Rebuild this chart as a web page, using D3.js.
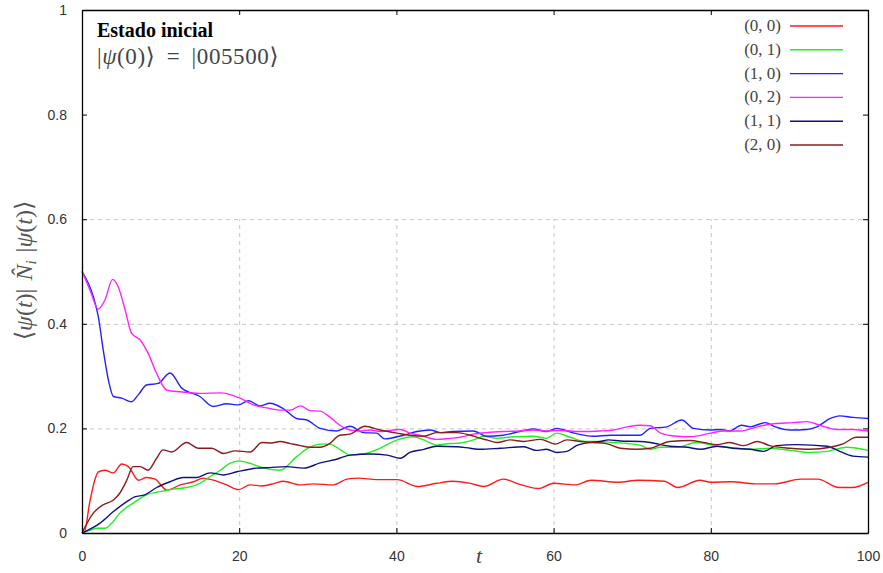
<!DOCTYPE html>
<html>
<head>
<meta charset="utf-8">
<script src="https://cdn.jsdelivr.net/npm/d3@7"></script>
<style>
  body { margin: 0; background: #fff; }
  svg { display: block; }
</style>
</head>
<body>
<div id="root"></div>
<script>
const WIDTH = 883;
const HEIGHT = 573;
const MARGIN = {top: 10, right: 15, bottom: 40, left: 82};

const X_TICKS = [0, 20, 40, 60, 80, 100];
const Y_TICKS = [0, 0.2, 0.4, 0.6, 0.8, 1];
const X_GRID = [20, 40, 60, 80];
const Y_GRID = [0.2, 0.4, 0.6];

const SERIES_LABELS = ["(0, 0)", "(0, 1)", "(1, 0)", "(0, 2)", "(1, 1)", "(2, 0)"];
const SERIES_COLORS = ["#ff1a1a", "#22ee22", "#2222ff", "#ff22ff", "#10107f", "#8b1c1c"];

// [t, <N_i>]
const occ00 = [[0,0],[0.25,0],[1.0,0.06],[1.6,0.1],[2.08,0.117],[2.9,0.12],[4.0,0.115],[5.05,0.132],[5.9,0.127],
  [7.2,0.101],[8.2,0.106],[9.3,0.103],[10.8,0.082],[12.5,0.092],[14.2,0.098],[15.4,0.105],[16.7,0.101],
  [18.4,0.092],[19.9,0.083],[21.4,0.092],[22.9,0.09],[24.5,0.095],[25.6,0.099],[27.8,0.092],[29.4,0.094],
  [32,0.092],[33.7,0.103],[35.2,0.105],[37.5,0.102],[40.1,0.102],[42.7,0.089],[45.1,0.095],[47.2,0.099],
  [49.4,0.095],[51.1,0.089],[53.6,0.103],[55.7,0.093],[58.1,0.085],[60,0.095],[62.7,0.092],[64.8,0.101],
  [68.2,0.097],[70.8,0.101],[74.1,0.099],[75.8,0.087],[78.6,0.101],[80,0.097],[82.6,0.098],[85.6,0.094],
  [88.1,0.094],[91.5,0.103],[93.6,0.103],[96.3,0.087],[98,0.087],[100,0.097]];

const occ01 = [[0,0],[1.0,0.005],[1.9,0.009],[2.9,0.009],[3.8,0.019],[4.8,0.038],[6.5,0.057],[8.2,0.073],
  [9.9,0.079],[11.6,0.084],[13.3,0.087],[15,0.095],[16.3,0.108],[17.6,0.12],[18.8,0.133],[19.9,0.138],
  [21.4,0.133],[23.1,0.124],[25.2,0.12],[27.3,0.146],[29,0.164],[30.3,0.17],[31.5,0.17],[32.8,0.16],
  [34.1,0.149],[35.8,0.151],[37.9,0.162],[40.1,0.178],[42.2,0.184],[43.5,0.178],[45.1,0.168],[46.8,0.171],
  [48.1,0.172],[49.8,0.178],[51.1,0.185],[52.8,0.181],[54.9,0.184],[57.4,0.185],[59.1,0.181],[60.4,0.191],
  [62.1,0.183],[64.2,0.175],[65.9,0.175],[67.6,0.173],[69.4,0.171],[71,0.168],[72.3,0.16],[73.6,0.164],
  [75.7,0.164],[78.2,0.173],[80.8,0.166],[83.4,0.162],[85,0.16],[87.5,0.162],[90.1,0.158],[92.6,0.154],
  [94.8,0.156],[97.3,0.164],[100,0.158]];

const occ10 = [[0,0.5],[1.44,0.452],[2.07,0.414],[2.7,0.35],[3.35,0.293],[4.0,0.261],[5.05,0.258],[6.3,0.251],
  [7.2,0.265],[8.2,0.283],[9.7,0.286],[11.2,0.306],[12.7,0.277],[15,0.261],[16.7,0.242],[18.4,0.247],
  [19.9,0.245],[21.2,0.253],[22.6,0.243],[23.9,0.248],[25.6,0.238],[27.3,0.219],[28.6,0.216],[30.3,0.2],
  [32.4,0.195],[34.1,0.204],[35.8,0.192],[37.5,0.191],[38.5,0.18],[40.9,0.187],[42.6,0.194],[44.3,0.197],
  [45.6,0.192],[47.2,0.194],[49.8,0.195],[51.5,0.185],[53.6,0.187],[55.7,0.194],[57.4,0.199],[59.1,0.194],
  [60.4,0.2],[62.6,0.191],[65,0.185],[67.2,0.187],[71,0.187],[72.3,0.2],[74.4,0.203],[76.3,0.216],
  [77.8,0.2],[79.9,0.197],[81.2,0.198],[82.4,0.195],[83.9,0.206],[85,0.203],[86.9,0.211],[88.2,0.203],
  [90.1,0.197],[92.2,0.198],[93.5,0.203],[95.2,0.219],[96.4,0.224],[98.1,0.221],[100,0.219]];

const occ02 = [[0,0.5],[1.0,0.465],[2.07,0.428],[2.9,0.445],[3.9,0.485],[4.6,0.471],[5.5,0.426],[6.3,0.382],
  [7.4,0.369],[8.4,0.344],[9.5,0.305],[10.8,0.273],[12.5,0.27],[15,0.267],[17.6,0.268],[20.1,0.258],
  [21.8,0.245],[23.9,0.238],[25.2,0.235],[26.5,0.235],[27.8,0.243],[29,0.234],[30.3,0.233],[31.5,0.222],
  [32.8,0.206],[34.1,0.197],[35.4,0.195],[36.7,0.197],[37.9,0.194],[40.5,0.198],[41.7,0.191],[43,0.187],
  [45.1,0.179],[46.8,0.181],[48.1,0.183],[49.8,0.189],[51.5,0.192],[53.6,0.194],[55.7,0.195],[57.4,0.197],
  [59.1,0.195],[60.8,0.196],[63.4,0.194],[65.9,0.195],[67.6,0.197],[69.4,0.203],[71,0.206],[72.3,0.205],
  [73.6,0.191],[75.7,0.185],[77.4,0.184],[80,0.191],[81.6,0.195],[83.8,0.195],[85.9,0.203],[88,0.209],
  [90.5,0.211],[92.2,0.213],[93.9,0.206],[96,0.198],[98.1,0.198],[100,0.195]];

const occ11 = [[0,0],[2.3,0.019],[4,0.041],[5.7,0.06],[6.7,0.069],[8,0.073],[9.5,0.087],[11.2,0.098],
  [12.9,0.106],[14.6,0.106],[16.3,0.115],[18,0.111],[19.7,0.117],[22.2,0.124],[23.9,0.125],[26,0.127],
  [28.2,0.124],[30.3,0.134],[32.4,0.141],[34.1,0.149],[36.7,0.151],[38.8,0.149],[40.5,0.143],[41.7,0.154],
  [43.5,0.16],[45.1,0.166],[47.7,0.165],[49.4,0.162],[50.6,0.16],[53.2,0.162],[56.2,0.165],[57.8,0.158],
  [59.1,0.16],[60.4,0.154],[61.7,0.156],[62.9,0.167],[64.6,0.173],[65.9,0.175],[67,0.178],[68.5,0.176],
  [71,0.175],[72.3,0.173],[74.8,0.166],[77,0.164],[78.7,0.16],[80.8,0.166],[82.8,0.162],[85,0.16],
  [86.7,0.156],[88.4,0.167],[90.9,0.169],[94.8,0.166],[96.4,0.156],[98.1,0.147],[100,0.145]];

const occ20 = [[0,0],[1.44,0.038],[2.7,0.054],[4,0.063],[4.8,0.076],[5.7,0.101],[6.5,0.127],[7.4,0.127],
  [8.4,0.12],[9.5,0.143],[10.3,0.159],[11.4,0.155],[13.3,0.173],[14.8,0.162],[16.5,0.162],[18,0.152],
  [19.5,0.157],[21.4,0.155],[22.9,0.173],[24.1,0.172],[25.2,0.175],[26.5,0.171],[27.8,0.167],[29,0.164],
  [30.3,0.164],[31.5,0.171],[32.8,0.187],[34.1,0.189],[36,0.204],[37.9,0.197],[40.1,0.191],[41.7,0.187],
  [43.5,0.185],[45.1,0.192],[47.7,0.192],[49.4,0.187],[50.5,0.182],[51.5,0.178],[52.8,0.173],[54.5,0.178],
  [56.2,0.175],[58.3,0.179],[60.2,0.17],[61.7,0.178],[63.4,0.175],[65,0.173],[66.7,0.171],[68.5,0.162],
  [70.6,0.16],[72.3,0.162],[74.8,0.175],[77.4,0.177],[79.1,0.173],[80.8,0.169],[82.4,0.173],[84.2,0.167],
  [85.9,0.175],[87.5,0.167],[90.1,0.162],[92.6,0.16],[95.2,0.164],[96.9,0.171],[98.5,0.183],[100,0.183]];

const SERIES = [occ00, occ01, occ10, occ02, occ11, occ20];

const xScale = d3.scaleLinear()
    .domain([0, 100])
    .range([MARGIN.left, WIDTH - MARGIN.right]);

const yScale = d3.scaleLinear()
    .domain([0, 1])
    .range([HEIGHT - MARGIN.bottom, MARGIN.top]);

const svg = d3.select("#root")
    .append("svg")
    .attr("width", WIDTH)
    .attr("height", HEIGHT);

// grid (only drawn in the lower part, as in the original)
const grid = svg.append("g")
    .attr("stroke", "#c4c4c4")
    .attr("stroke-width", 1)
    .attr("stroke-dasharray", "4,4");

grid.selectAll(".vgrid")
    .data(X_GRID)
    .enter()
    .append("line")
    .attr("x1", d => xScale(d) + 0.5)
    .attr("x2", d => xScale(d) + 0.5)
    .attr("y1", yScale(0))
    .attr("y2", yScale(0.6));

grid.selectAll(".hgrid")
    .data(Y_GRID)
    .enter()
    .append("line")
    .attr("x1", xScale(0))
    .attr("x2", xScale(100))
    .attr("y1", d => yScale(d) + 0.5)
    .attr("y2", d => yScale(d) + 0.5);

// curves
const line = d3.line()
    .x(d => xScale(d[0]))
    .y(d => yScale(d[1]))
    .curve(d3.curveMonotoneX);

svg.append("g")
    .selectAll("path")
    .data(SERIES)
    .enter()
    .append("path")
    .attr("fill", "none")
    .attr("stroke", (d, i) => SERIES_COLORS[i])
    .attr("stroke-width", 1.4)
    .attr("stroke-linejoin", "round")
    .attr("d", line);

// axes, ticks pointing inward on all four sides
const tickFmt = d => d3.format("~g")(d);

const axisLayer = svg.append("g")
    .attr("class", "axisLayer");

axisLayer.append("g")
    .attr("transform", `translate(0, ${yScale(0)})`)
    .call(d3.axisBottom(xScale).tickValues(X_TICKS).tickSizeInner(-5).tickSizeOuter(0)
        .tickPadding(18).tickFormat(tickFmt));

axisLayer.append("g")
    .attr("transform", `translate(${xScale(0)}, 0)`)
    .call(d3.axisLeft(yScale).tickValues(Y_TICKS).tickSizeInner(-5).tickSizeOuter(0)
        .tickPadding(15).tickFormat(tickFmt));

axisLayer.append("g")
    .attr("transform", `translate(0, ${yScale(1)})`)
    .call(d3.axisTop(xScale).tickValues(X_TICKS).tickSizeInner(-5).tickSizeOuter(0).tickFormat(""));

axisLayer.append("g")
    .attr("transform", `translate(${xScale(100)}, 0)`)
    .call(d3.axisRight(yScale).tickValues(Y_TICKS).tickSizeInner(-5).tickSizeOuter(0).tickFormat(""));

axisLayer.selectAll(".domain").attr("stroke", "#000").attr("stroke-width", 1.3);
axisLayer.selectAll(".tick line").attr("stroke", "#000");
axisLayer.selectAll(".tick text")
    .attr("fill", "#333")
    .style("font-family", "'Liberation Sans', Arial, sans-serif")
    .style("font-size", "14px");

// axis titles
svg.append("text")
    .attr("x", (xScale(0) + xScale(100)) / 2 + 4)
    .attr("y", yScale(0) + 30)
    .attr("text-anchor", "middle")
    .style("font-family", "'Liberation Serif', 'DejaVu Serif', serif")
    .style("font-style", "italic")
    .style("font-size", "22px")
    .attr("fill", "#444")
    .text("t");

const yTitle = svg.append("text")
    .attr("transform", `translate(32, ${yScale(0.5) - 1}) rotate(-90)`)
    .attr("text-anchor", "middle")
    .style("font-family", "'Liberation Serif', 'DejaVu Serif', serif")
    .style("font-size", "24px")
    .style("word-spacing", "2px")
    .attr("fill", "#555");
yTitle.append("tspan").text("⟨");
yTitle.append("tspan").style("font-style", "italic").text("ψ");
yTitle.append("tspan").text("(");
yTitle.append("tspan").style("font-style", "italic").text("t");
yTitle.append("tspan").text(")| ");
yTitle.append("tspan").style("font-style", "italic").text("N\u0302");
yTitle.append("tspan").style("font-style", "italic").style("font-size", "15px").attr("dy", 4).text("i");
yTitle.append("tspan").attr("dy", -4).text(" |");
yTitle.append("tspan").style("font-style", "italic").text("ψ");
yTitle.append("tspan").text("(");
yTitle.append("tspan").style("font-style", "italic").text("t");
yTitle.append("tspan").text(")⟩");

// annotation top-left
svg.append("text")
    .attr("x", 97)
    .attr("y", 37)
    .style("font-family", "'Liberation Serif', 'DejaVu Serif', serif")
    .style("font-size", "20px")
    .style("font-weight", "bold")
    .attr("fill", "#000")
    .text("Estado inicial");

const stateText = svg.append("text")
    .attr("x", 97)
    .attr("y", 64)
    .style("font-family", "'Liberation Serif', 'DejaVu Serif', serif")
    .style("font-size", "23px")
    .style("word-spacing", "5px")
    .style("letter-spacing", "0.6px")
    .attr("fill", "#444");
stateText.append("tspan").text("|");
stateText.append("tspan").style("font-style", "italic").text("ψ");
stateText.append("tspan").text("(0)⟩ = |005500⟩");

// legend
const legend = svg.append("g")
    .selectAll("g")
    .data(SERIES_LABELS)
    .enter()
    .append("g")
    .attr("transform", (d, i) => `translate(0, ${26 + i * 23.8})`);

legend.append("text")
    .attr("x", 781)
    .attr("y", 5)
    .attr("text-anchor", "end")
    .style("font-family", "'Liberation Serif', 'DejaVu Serif', serif")
    .style("font-size", "17px")
    .attr("fill", "#444")
    .text(d => d);

legend.append("line")
    .attr("x1", 790)
    .attr("x2", 843)
    .attr("y1", 0)
    .attr("y2", 0)
    .attr("stroke", (d, i) => SERIES_COLORS[i])
    .attr("stroke-width", 1.4);
</script>
</body>
</html>
